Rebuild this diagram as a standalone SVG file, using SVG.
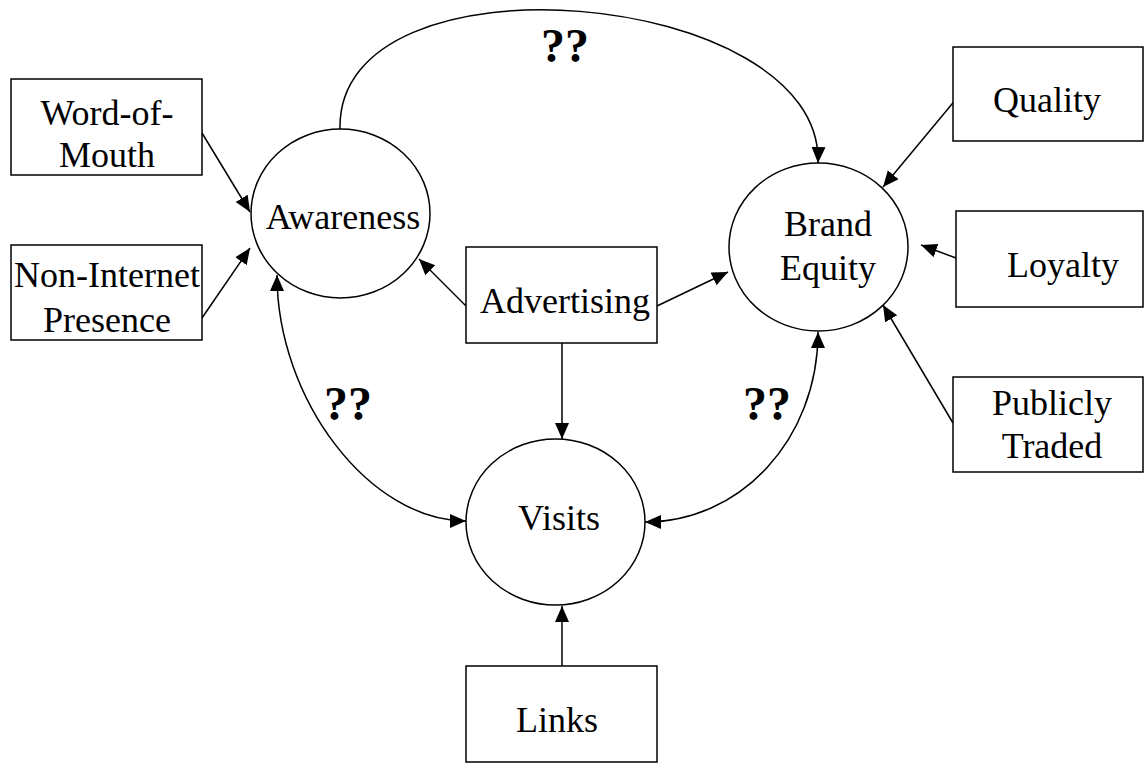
<svg xmlns="http://www.w3.org/2000/svg" width="1144" height="763" viewBox="0 0 1144 763">
<style>
  .box { fill: #ffffff; stroke: #000000; stroke-width: 1.5; }
  .node { fill: #ffffff; stroke: #000000; stroke-width: 1.5; }
  .lbl { font-family: "Liberation Serif", "Times New Roman", serif; font-size: 36px; fill: #000000; text-anchor: middle; }
  .q { font-family: "Liberation Serif", "Times New Roman", serif; font-size: 48px; font-weight: bold; fill: #000000; text-anchor: middle; }
  .edge { fill: none; stroke: #000000; stroke-width: 1.5; marker-end: url(#arrow); }
  .bi { marker-start: url(#arrow); }
</style>
<defs>
  <marker id="arrow" markerUnits="userSpaceOnUse" markerWidth="17" markerHeight="15" refX="16" refY="7" orient="auto-start-reverse" viewBox="0 0 17 15">
    <path d="M0,0 L16,7 L0,14 z" fill="#000000"/>
  </marker>
</defs>
<rect width="1144" height="763" fill="#ffffff"/>

<g id="connectors">
  <line class="edge" x1="202" y1="133" x2="250" y2="212"/>
  <line class="edge" x1="202" y1="318" x2="250" y2="248"/>
  <line class="edge" x1="466" y1="306" x2="419" y2="259"/>
  <line class="edge" x1="657" y1="306" x2="728" y2="272"/>
  <line class="edge" x1="562" y1="343" x2="562" y2="439"/>
  <line class="edge" x1="562" y1="666" x2="562" y2="606"/>
  <line class="edge" x1="957" y1="98" x2="883" y2="187"/>
  <line class="edge" x1="956" y1="258" x2="921" y2="245"/>
  <line class="edge" x1="953" y1="423" x2="883" y2="305"/>
  <path class="edge" d="M340,129 C336,-55 824,-12 818,163"/>
  <path class="edge bi" d="M277,275 C277,400 370,521 466,521"/>
  <path class="edge bi" d="M818,332 C818,440 740,522 645,522"/>
</g>

<g id="word-of-mouth">
  <rect class="box" x="11" y="79" width="191" height="96"/>
  <text class="lbl" x="107" y="125">Word-of-</text>
  <text class="lbl" x="107" y="167">Mouth</text>
</g>
<g id="non-internet-presence">
  <rect class="box" x="11" y="245" width="191" height="95"/>
  <text class="lbl" x="107" y="287">Non-Internet</text>
  <text class="lbl" x="107" y="332">Presence</text>
</g>
<g id="awareness">
  <ellipse class="node" cx="340.5" cy="213.5" rx="89.5" ry="84.5"/>
  <text class="lbl" x="343" y="229">Awareness</text>
</g>
<g id="advertising">
  <rect class="box" x="466" y="247" width="191" height="96"/>
  <text class="lbl" x="565" y="313">Advertising</text>
</g>
<g id="brand-equity">
  <ellipse class="node" cx="818.5" cy="247" rx="89.5" ry="84"/>
  <text class="lbl" x="828" y="236">Brand</text>
  <text class="lbl" x="828" y="280">Equity</text>
</g>
<g id="visits">
  <ellipse class="node" cx="555.5" cy="522" rx="89.5" ry="83"/>
  <text class="lbl" x="559" y="530">Visits</text>
</g>
<g id="links">
  <rect class="box" x="466" y="666" width="191" height="96"/>
  <text class="lbl" x="557" y="732">Links</text>
</g>
<g id="quality">
  <rect class="box" x="953" y="47" width="190" height="94"/>
  <text class="lbl" x="1047" y="112">Quality</text>
</g>
<g id="loyalty">
  <rect class="box" x="956" y="211" width="187" height="96"/>
  <text class="lbl" x="1063" y="277">Loyalty</text>
</g>
<g id="publicly-traded">
  <rect class="box" x="953" y="377" width="190" height="95"/>
  <text class="lbl" x="1052" y="415">Publicly</text>
  <text class="lbl" x="1052" y="458">Traded</text>
</g>

<g id="labels">
  <text class="q" x="565" y="62">??</text>
  <text class="q" x="348" y="420">??</text>
  <text class="q" x="767" y="420">??</text>
</g>
</svg>
